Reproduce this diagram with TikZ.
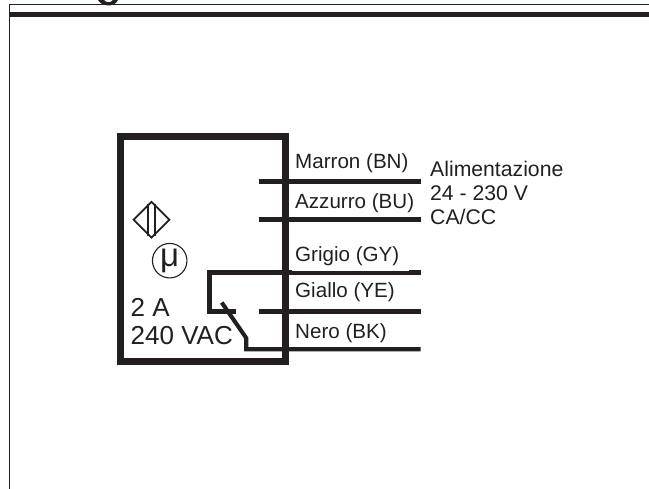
\documentclass[tikz,border=0pt]{standalone}
\usepackage{fontspec}
\setmainfont{Liberation Sans}
\usetikzlibrary{shapes.geometric}
\definecolor{ink}{RGB}{35,31,32}
\tikzset{
  x=1pt,y=-1pt,
  lbl/.style={anchor=base west,inner sep=0pt,text=ink,font=\fontsize{20.6}{24}\selectfont},
  sup/.style={anchor=base west,inner sep=0pt,text=ink,font=\fontsize{21.2}{24}\selectfont},
  big/.style={anchor=base west,inner sep=0pt,text=ink,font=\fontsize{26}{30}\selectfont},
  wire/.style={draw=ink,line width=4.7pt},
  symb/.style={draw=ink,line width=1.7pt},
  rulethin/.style={draw=ink,line width=1.2pt},
}
\begin{document}
\begin{tikzpicture}
\useasboundingbox (0,0) rectangle (649,489);
% frame
\draw[rulethin] (649,4.5) -- (9.5,4.5) -- (9.5,489);
\draw[draw=ink,line width=5.4pt] (10,14.5) -- (649,14.5);
\fill[ink] (98,0) .. controls (101,6) and (114,8.5) .. (118,0) -- (113,0) .. controls (111,3) and (106,3) .. (104,0) -- cycle;
% housing
\node[draw=ink,line width=6.8pt,minimum width=164.5pt,minimum height=225pt,inner sep=0pt,outer sep=0pt,anchor=center] (housing) at (203,249.2) {};
% terminals
\coordinate (t1l) at (258.7,181.3); \coordinate (t1r) at (420.7,181.3);
\coordinate (t2l) at (258.7,219.7); \coordinate (t2r) at (420.7,219.7);
\coordinate (t3l) at (209.7,272.7); \coordinate (t3r) at (420.7,272.7);
\coordinate (t4l) at (258.7,311.3); \coordinate (t4r) at (420.7,311.3);
\coordinate (t5r) at (420.7,349.3);
\coordinate (sw1) at (209.7,311.3); \coordinate (sw2) at (236,311.3);
\coordinate (bl1) at (221.7,302.5); \coordinate (bl2) at (246.2,338); \coordinate (bl3) at (246.2,349.3);
\draw[wire] (t1l) -- (t1r);
\draw[wire] (t2l) -- (t2r);
\draw[wire] (t4l) -- (t4r);
\draw[wire,line join=miter] (t3r) -- (t3l) -- (sw1) -- (sw2);
\draw[wire,line width=4.1pt,line join=miter] (bl1) -- (bl2) -- (bl3) -- (t5r);
\fill[white] (292,269.6) rectangle (409,270.9);
% symbols
\node[symb,diamond,aspect=1,minimum size=36.5pt,inner sep=0pt] (dia) at (151.5,219.8) {};
\draw[symb] ([xshift=-3.2pt,yshift=-3.2pt]dia.north) -- ([xshift=-3.2pt,yshift=3.2pt]dia.south);
\draw[symb] ([xshift=3.2pt,yshift=-3.2pt]dia.north) -- ([xshift=3.2pt,yshift=3.2pt]dia.south);
\node[draw=ink,line width=1.1pt,circle,minimum size=34.5pt,inner sep=0pt] (mu) at (169.7,260.7) {};
\node[anchor=base,inner sep=0pt,text=ink,font=\fontsize{33}{34}\selectfont] (mutext) at (169.7,266.8) {μ};
% texts
\node[big] (amp) at (130.5,316.7) {2 A};
\node[big] (vac) at (130.5,344.3) {240 VAC};
\node[lbl] (l1) at (295,168.3) {Marron (BN)};
\node[lbl] (l2) at (295,208.3) {Azzurro (BU)};
\node[lbl] (l3) at (295,261.7) {Grigio (GY)};
\node[lbl] (l4) at (295,297.3) {Giallo (YE)};
\node[lbl] (l5) at (295,338.3) {Nero (BK)};
\node[sup] (s1) at (430,176.7) {Alimentazione};
\node[sup] (s2) at (430,200.7) {24 - 230 V};
\node[sup] (s3) at (430,225) {CA/CC};
\end{tikzpicture}
\end{document}
